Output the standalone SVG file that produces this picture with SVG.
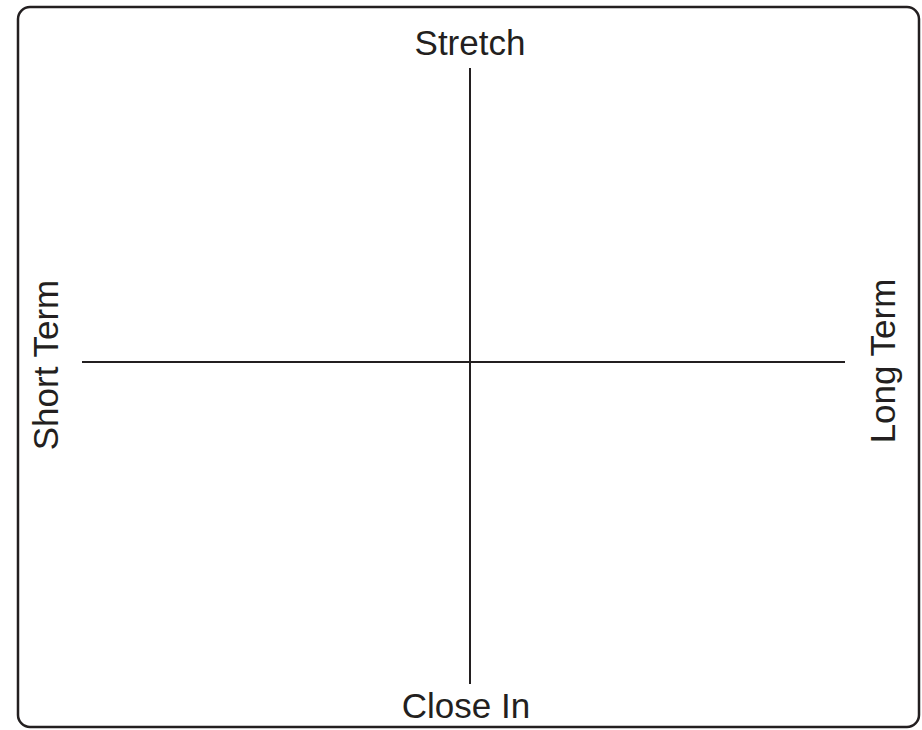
<svg xmlns="http://www.w3.org/2000/svg" width="922" height="730" viewBox="0 0 922 730">
<style>
.lbl{font-family:"Liberation Sans",Arial,sans-serif;font-size:35px;fill:#231f20;text-anchor:middle}
.ax{stroke:#231f20;stroke-width:2;fill:none}
</style>
<rect width="922" height="730" fill="#fff"/>
<g id="frame"><rect x="18" y="7" width="901" height="720" rx="12" ry="12" fill="none" stroke="#231f20" stroke-width="2.5"/></g>
<g id="connectors">
<line class="ax" x1="82" y1="362" x2="845" y2="362"/>
<line class="ax" x1="470" y1="68" x2="470" y2="684"/>
</g>
<g id="stretch"><text class="lbl" x="470" y="55">Stretch</text></g>
<g id="closein"><text class="lbl" x="466" y="718">Close In</text></g>
<g id="shortterm"><text class="lbl" transform="translate(58,365) rotate(-90)">Short Term</text></g>
<g id="longterm"><text class="lbl" transform="translate(895,361) rotate(-90)">Long Term</text></g>
</svg>
